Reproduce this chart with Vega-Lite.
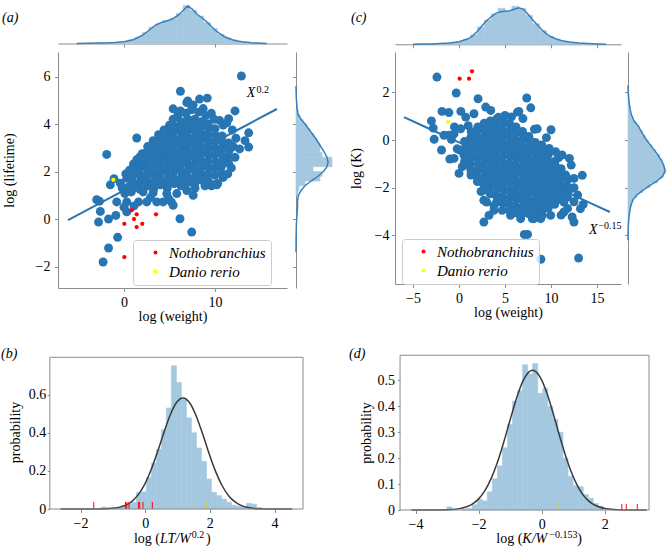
{
"$schema":"https://vega.github.io/schema/vega-lite/v6.json",
"padding":{"left":1,"top":3,"right":5,"bottom":5},
"config":{"font":"Liberation Serif","view":{"stroke":null},
"axis":{"grid":false,"domainColor":"#8c8c8c","tickColor":"#8c8c8c","labelColor":"#000000","titleColor":"#000000","labelFontSize":14,"titleFontSize":14,"titleFontWeight":"normal","tickSize":3.5,"labelPadding":4,"domainWidth":1,"tickWidth":1},
"rect":{"stroke":"#a5c8e1","strokeWidth":0.6},
"text":{"color":"#000000","fontSize":14}},
"resolve":{"scale":{"color":"independent"},"legend":{"color":"independent"}},
"datasets":{
"sa":[{"x":1.0,"y":1.3},{"x":0.92,"y":1.58},{"x":1.08,"y":1.86},{"x":0.95,"y":2.14},{"x":1.05,"y":2.32},
{"x":1.75,"y":1.25},{"x":1.68,"y":1.53},{"x":1.82,"y":1.81},{"x":1.7,"y":2.09},{"x":1.8,"y":2.37},{"x":1.72,"y":2.6},
{"x":2.5,"y":1.39},{"x":2.42,"y":1.67},{"x":2.58,"y":1.95},{"x":2.45,"y":2.23},{"x":2.55,"y":2.51},{"x":2.48,"y":2.8},
{"x":3.25,"y":1.25},{"x":3.18,"y":1.53},{"x":3.32,"y":1.81},{"x":3.2,"y":2.09},{"x":3.3,"y":2.37},{"x":3.22,"y":2.65},{"x":3.28,"y":2.93},{"x":3.2,"y":3.1},
{"x":4.0,"y":1.44},{"x":3.92,"y":1.72},{"x":4.08,"y":2.0},{"x":3.95,"y":2.28},{"x":4.05,"y":2.56},{"x":3.97,"y":2.84},{"x":4.03,"y":3.12},{"x":4.0,"y":3.4},
{"x":4.75,"y":1.3},{"x":4.68,"y":1.58},{"x":4.82,"y":1.86},{"x":4.7,"y":2.14},{"x":4.8,"y":2.42},{"x":4.72,"y":2.7},{"x":4.78,"y":2.98},{"x":4.7,"y":3.26},{"x":4.8,"y":3.54},{"x":4.75,"y":3.7},
{"x":5.5,"y":1.49},{"x":5.42,"y":1.77},{"x":5.58,"y":2.05},{"x":5.45,"y":2.33},{"x":5.55,"y":2.61},{"x":5.47,"y":2.89},{"x":5.53,"y":3.17},{"x":5.45,"y":3.45},{"x":5.55,"y":3.73},{"x":5.5,"y":3.9},
{"x":6.25,"y":1.4},{"x":6.18,"y":1.68},{"x":6.32,"y":1.96},{"x":6.2,"y":2.24},{"x":6.3,"y":2.52},{"x":6.22,"y":2.8},{"x":6.28,"y":3.08},{"x":6.2,"y":3.36},{"x":6.3,"y":3.64},{"x":6.22,"y":3.92},{"x":6.28,"y":4.1},
{"x":7.0,"y":1.54},{"x":6.92,"y":1.82},{"x":7.08,"y":2.1},{"x":6.95,"y":2.38},{"x":7.05,"y":2.66},{"x":6.97,"y":2.94},{"x":7.03,"y":3.22},{"x":6.95,"y":3.5},{"x":7.05,"y":3.78},{"x":6.98,"y":4.06},{"x":7.02,"y":4.2},
{"x":7.75,"y":1.45},{"x":7.68,"y":1.73},{"x":7.82,"y":2.01},{"x":7.7,"y":2.29},{"x":7.8,"y":2.57},{"x":7.72,"y":2.85},{"x":7.78,"y":3.13},{"x":7.7,"y":3.41},{"x":7.8,"y":3.69},{"x":7.72,"y":3.97},{"x":7.78,"y":4.2},
{"x":8.5,"y":1.64},{"x":8.42,"y":1.92},{"x":8.58,"y":2.2},{"x":8.45,"y":2.48},{"x":8.55,"y":2.76},{"x":8.47,"y":3.04},{"x":8.53,"y":3.32},{"x":8.45,"y":3.6},{"x":8.55,"y":3.88},{"x":8.5,"y":4.1},
{"x":9.25,"y":1.6},{"x":9.18,"y":1.88},{"x":9.32,"y":2.16},{"x":9.2,"y":2.44},{"x":9.3,"y":2.72},{"x":9.22,"y":3.0},{"x":9.28,"y":3.28},{"x":9.2,"y":3.56},{"x":9.3,"y":3.84},{"x":9.25,"y":4.0},
{"x":10.0,"y":1.84},{"x":9.92,"y":2.12},{"x":10.08,"y":2.4},{"x":9.95,"y":2.68},{"x":10.05,"y":2.96},{"x":9.97,"y":3.24},{"x":10.03,"y":3.52},{"x":10.0,"y":3.8},
{"x":10.75,"y":1.9},{"x":10.68,"y":2.18},{"x":10.82,"y":2.46},{"x":10.7,"y":2.74},{"x":10.8,"y":3.02},{"x":10.72,"y":3.3},{"x":10.78,"y":3.5},
{"x":11.5,"y":2.34},{"x":11.42,"y":2.62},{"x":11.58,"y":2.9},{"x":11.5,"y":3.2},
{"x":1.4,"y":2.5},{"x":2.0,"y":2.75},{"x":2.6,"y":3.05},{"x":3.2,"y":3.3},{"x":3.8,"y":3.55},{"x":4.4,"y":3.75},{"x":5.0,"y":3.95},{"x":5.4,"y":4.2},{"x":5.9,"y":4.35},{"x":6.2,"y":4.55},{"x":6.8,"y":4.45},{"x":6.9,"y":4.9},{"x":7.4,"y":4.6},{"x":7.6,"y":4.8},{"x":8.2,"y":4.5},{"x":8.7,"y":4.65},{"x":9.0,"y":4.35},{"x":9.6,"y":4.45},{"x":9.9,"y":4.2},{"x":10.5,"y":4.15},{"x":10.9,"y":3.95},{"x":11.3,"y":4.05},{"x":11.9,"y":3.75},{"x":12.3,"y":3.4},{"x":12.0,"y":3.05},{"x":12.7,"y":2.95},{"x":12.2,"y":2.6},{"x":11.8,"y":2.15},{"x":11.4,"y":1.9},{"x":10.9,"y":1.75},{"x":10.3,"y":1.5},{"x":9.6,"y":1.4},{"x":8.9,"y":1.4},{"x":0.3,"y":1.72},{"x":-0.4,"y":1.51},{"x":-0.2,"y":1.3},{"x":0.5,"y":1.35},{"x":0.2,"y":1.9},{"x":0.6,"y":2.05},
{"x":12.9,"y":6.02},{"x":6.2,"y":5.38},{"x":7.0,"y":4.97},{"x":8.3,"y":5.05},{"x":9.15,"y":5.09},{"x":5.4,"y":4.64},{"x":12.2,"y":4.55},{"x":11.5,"y":4.22},{"x":13.7,"y":3.63},{"x":13.7,"y":3.03},{"x":13.3,"y":3.3},{"x":1.4,"y":3.41},{"x":-1.9,"y":2.72},{"x":-1.1,"y":1.7},{"x":-1.5,"y":1.44},{"x":-3.0,"y":0.81},{"x":-2.7,"y":0.75},{"x":-2.6,"y":0.32},{"x":-2.8,"y":-0.13},{"x":-1.7,"y":0.0},{"x":-0.9,"y":0.15},{"x":6.15,"y":0.01},{"x":7.44,"y":-0.55},{"x":-0.7,"y":-0.77},{"x":-1.7,"y":-1.22},{"x":-2.3,"y":-1.81},{"x":-0.8,"y":0.72},{"x":0.3,"y":0.72},{"x":1.1,"y":0.55},{"x":1.6,"y":0.72},{"x":2.5,"y":0.72},{"x":3.6,"y":0.72},{"x":4.3,"y":0.72},{"x":5.2,"y":0.72},{"x":5.4,"y":0.58},{"x":0.3,"y":0.3},{"x":0.1,"y":1.07},{"x":0.8,"y":1.14},{"x":2.1,"y":1.14},{"x":3.2,"y":1.1},{"x":4.7,"y":1.07},{"x":5.8,"y":1.07},{"x":6.9,"y":1.2},{"x":7.8,"y":1.3},{"x":9.8,"y":1.44},{"x":10.2,"y":1.44},{"x":7.6,"y":1.0},{"x":4.9,"y":0.86},{"x":2.9,"y":0.9},{"x":0.0,"y":0.5}],
"pa":[{"x":0.84,"y":0.37,"sp":"Nothobranchius"},{"x":1.39,"y":0.2,"sp":"Nothobranchius"},{"x":3.52,"y":0.2,"sp":"Nothobranchius"},{"x":0.04,"y":-0.2,"sp":"Nothobranchius"},{"x":1.1,"y":0.0,"sp":"Nothobranchius"},{"x":2.01,"y":-0.2,"sp":"Nothobranchius"},{"x":1.39,"y":-0.34,"sp":"Nothobranchius"},{"x":0.04,"y":-1.6,"sp":"Nothobranchius"},{"x":-1.17,"y":1.65,"sp":"Danio rerio"}],
"ba":[{"x":-6.15,"fit":-0.05,"lo":-0.21,"hi":0.11},{"x":-3,"fit":0.593,"lo":0.493,"hi":0.693},{"x":0,"fit":1.205,"lo":1.145,"hi":1.265},{"x":3,"fit":1.817,"lo":1.777,"hi":1.857},{"x":6,"fit":2.429,"lo":2.394,"hi":2.464},{"x":9,"fit":3.041,"lo":3.001,"hi":3.081},{"x":12,"fit":3.653,"lo":3.583,"hi":3.723},{"x":15,"fit":4.265,"lo":4.155,"hi":4.375},{"x":16.8,"fit":4.632,"lo":4.492,"hi":4.772}],
"ta":[{"x":-5.2,"h":0},{"x":-4,"h":0.2},{"x":-3,"h":0.4},{"x":-2,"h":0.6},{"x":-1,"h":1.0},{"x":0,"h":1.8},{"x":1,"h":3.8},{"x":2,"h":8},{"x":3,"h":15},{"x":3.5,"h":18.5},{"x":4,"h":20.5},{"x":4.5,"h":22},{"x":5,"h":23.5},{"x":5.5,"h":25.5},{"x":6,"h":28.5},{"x":6.5,"h":33},{"x":7,"h":37.5},{"x":7.5,"h":34.5},{"x":8,"h":29.5},{"x":8.5,"h":26},{"x":9,"h":22.5},{"x":9.5,"h":18},{"x":10,"h":13.5},{"x":10.5,"h":10},{"x":11,"h":7},{"x":11.5,"h":5},{"x":12,"h":3.5},{"x":12.5,"h":2.5},{"x":13,"h":1.8},{"x":14,"h":0.8},{"x":15,"h":0.3},{"x":15.7,"h":0}],
"tab":[{"a":-4.75,"b":-4.0,"h":0.15},{"a":-4.0,"b":-3.25,"h":0.3},{"a":-3.25,"b":-2.5,"h":0.45},{"a":-2.5,"b":-1.75,"h":0.6},{"a":-1.75,"b":-1.0,"h":0.85},{"a":-1.0,"b":-0.25,"h":1.3},{"a":-0.25,"b":0.5,"h":2.0},{"a":0.5,"b":1.25,"h":3.6},{"a":1.25,"b":2.0,"h":6.3},{"a":2.0,"b":2.75,"h":11},{"a":2.75,"b":3.5,"h":16.5},{"a":3.5,"b":4.25,"h":19.5},{"a":4.25,"b":5.0,"h":23},{"a":5.0,"b":5.75,"h":24.5},{"a":5.75,"b":6.5,"h":30},{"a":6.5,"b":7.25,"h":38},{"a":7.25,"b":8.0,"h":33},{"a":8.0,"b":8.75,"h":27.5},{"a":8.75,"b":9.5,"h":21},{"a":9.5,"b":10.25,"h":15},{"a":10.25,"b":11.0,"h":9},{"a":11.0,"b":11.75,"h":5.8},{"a":11.75,"b":12.5,"h":3.3},{"a":12.5,"b":13.25,"h":1.9},{"a":13.25,"b":14.0,"h":1.2},{"a":14.0,"b":14.75,"h":0.6},{"a":14.75,"b":15.5,"h":0.25}],
"ka":[{"y":-1.4,"h":0},{"y":-0.8,"h":0.1},{"y":-0.2,"h":0.4},{"y":0.2,"h":1.0},{"y":0.5,"h":1.5},{"y":0.8,"h":1.6},{"y":1.0,"h":2.5},{"y":1.2,"h":5},{"y":1.4,"h":9},{"y":1.6,"h":15},{"y":1.8,"h":22},{"y":2.0,"h":27.5},{"y":2.2,"h":31},{"y":2.4,"h":32},{"y":2.6,"h":31},{"y":2.8,"h":28.5},{"y":3.0,"h":25.5},{"y":3.2,"h":22.5},{"y":3.4,"h":19.5},{"y":3.6,"h":16},{"y":3.8,"h":12.5},{"y":4.0,"h":9},{"y":4.2,"h":5},{"y":4.4,"h":2},{"y":4.7,"h":1},{"y":5.1,"h":0.3},{"y":5.6,"h":0}],
"rba":[{"y0":1.0,"y1":1.2,"h":2},{"y0":1.2,"y1":1.4,"h":3},{"y0":1.4,"y1":1.6,"h":9},{"y0":1.6,"y1":1.8,"h":24},{"y0":1.8,"y1":2.0,"h":26},{"y0":2.0,"y1":2.2,"h":17},{"y0":2.2,"y1":2.4,"h":36},{"y0":2.4,"y1":2.6,"h":36},{"y0":2.6,"y1":2.8,"h":26},{"y0":2.8,"y1":3.0,"h":24},{"y0":3.0,"y1":3.2,"h":24},{"y0":3.2,"y1":3.4,"h":21},{"y0":3.4,"y1":3.6,"h":18},{"y0":3.6,"y1":3.8,"h":14},{"y0":3.8,"y1":4.0,"h":11},{"y0":4.0,"y1":4.2,"h":7},{"y0":4.2,"y1":4.4,"h":4},{"y0":4.4,"y1":4.6,"h":2}],
"sc":[{"x":0.6,"y":-0.9},{"x":0.53,"y":-0.62},{"x":0.67,"y":-0.34},{"x":0.6,"y":-0.06},
{"x":1.3,"y":-1.3},{"x":1.23,"y":-1.02},{"x":1.37,"y":-0.74},{"x":1.25,"y":-0.46},{"x":1.35,"y":-0.18},{"x":1.27,"y":0.1},{"x":1.33,"y":0.35},
{"x":2.0,"y":-1.56},{"x":1.93,"y":-1.28},{"x":2.07,"y":-1.0},{"x":1.95,"y":-0.72},{"x":2.05,"y":-0.44},{"x":1.97,"y":-0.16},{"x":2.03,"y":0.12},{"x":1.95,"y":0.4},{"x":2.05,"y":0.55},
{"x":2.7,"y":-2.1},{"x":2.63,"y":-1.82},{"x":2.77,"y":-1.54},{"x":2.65,"y":-1.26},{"x":2.75,"y":-0.98},{"x":2.67,"y":-0.7},{"x":2.73,"y":-0.42},{"x":2.65,"y":-0.14},{"x":2.75,"y":0.14},{"x":2.67,"y":0.42},{"x":2.73,"y":0.7},
{"x":3.4,"y":-2.26},{"x":3.33,"y":-1.98},{"x":3.47,"y":-1.7},{"x":3.35,"y":-1.42},{"x":3.45,"y":-1.14},{"x":3.37,"y":-0.86},{"x":3.43,"y":-0.58},{"x":3.35,"y":-0.3},{"x":3.45,"y":-0.02},{"x":3.37,"y":0.26},{"x":3.43,"y":0.54},{"x":3.4,"y":0.8},
{"x":4.1,"y":-2.6},{"x":4.03,"y":-2.32},{"x":4.17,"y":-2.04},{"x":4.05,"y":-1.76},{"x":4.15,"y":-1.48},{"x":4.07,"y":-1.2},{"x":4.13,"y":-0.92},{"x":4.05,"y":-0.64},{"x":4.15,"y":-0.36},{"x":4.07,"y":-0.08},{"x":4.13,"y":0.2},{"x":4.05,"y":0.48},{"x":4.15,"y":0.76},{"x":4.1,"y":0.88},
{"x":4.8,"y":-2.66},{"x":4.73,"y":-2.38},{"x":4.87,"y":-2.1},{"x":4.75,"y":-1.82},{"x":4.85,"y":-1.54},{"x":4.77,"y":-1.26},{"x":4.83,"y":-0.98},{"x":4.75,"y":-0.7},{"x":4.85,"y":-0.42},{"x":4.77,"y":-0.14},{"x":4.83,"y":0.14},{"x":4.75,"y":0.42},{"x":4.85,"y":0.7},{"x":4.8,"y":0.82},
{"x":5.5,"y":-2.95},{"x":5.43,"y":-2.67},{"x":5.57,"y":-2.39},{"x":5.45,"y":-2.11},{"x":5.55,"y":-1.83},{"x":5.47,"y":-1.55},{"x":5.53,"y":-1.27},{"x":5.45,"y":-0.99},{"x":5.55,"y":-0.71},{"x":5.47,"y":-0.43},{"x":5.53,"y":-0.15},{"x":5.45,"y":0.13},{"x":5.55,"y":0.41},{"x":5.5,"y":0.68},
{"x":6.2,"y":-3.05},{"x":6.13,"y":-2.77},{"x":6.27,"y":-2.49},{"x":6.15,"y":-2.21},{"x":6.25,"y":-1.93},{"x":6.17,"y":-1.65},{"x":6.23,"y":-1.37},{"x":6.15,"y":-1.09},{"x":6.25,"y":-0.81},{"x":6.17,"y":-0.53},{"x":6.23,"y":-0.25},{"x":6.15,"y":0.03},{"x":6.25,"y":0.31},{"x":6.2,"y":0.55},
{"x":6.9,"y":-3.1},{"x":6.83,"y":-2.82},{"x":6.97,"y":-2.54},{"x":6.85,"y":-2.26},{"x":6.95,"y":-1.98},{"x":6.87,"y":-1.7},{"x":6.93,"y":-1.42},{"x":6.85,"y":-1.14},{"x":6.95,"y":-0.86},{"x":6.87,"y":-0.58},{"x":6.93,"y":-0.3},{"x":6.85,"y":-0.02},{"x":6.95,"y":0.26},{"x":6.9,"y":0.36},
{"x":7.6,"y":-3.1},{"x":7.53,"y":-2.82},{"x":7.67,"y":-2.54},{"x":7.55,"y":-2.26},{"x":7.65,"y":-1.98},{"x":7.57,"y":-1.7},{"x":7.63,"y":-1.42},{"x":7.55,"y":-1.14},{"x":7.65,"y":-0.86},{"x":7.57,"y":-0.58},{"x":7.63,"y":-0.3},{"x":7.6,"y":-0.02},{"x":7.6,"y":0.15},
{"x":8.3,"y":-3.05},{"x":8.23,"y":-2.77},{"x":8.37,"y":-2.49},{"x":8.25,"y":-2.21},{"x":8.35,"y":-1.93},{"x":8.27,"y":-1.65},{"x":8.33,"y":-1.37},{"x":8.25,"y":-1.09},{"x":8.35,"y":-0.81},{"x":8.27,"y":-0.53},{"x":8.33,"y":-0.25},{"x":8.3,"y":-0.1},
{"x":9.0,"y":-2.95},{"x":8.93,"y":-2.67},{"x":9.07,"y":-2.39},{"x":8.95,"y":-2.11},{"x":9.05,"y":-1.83},{"x":8.97,"y":-1.55},{"x":9.03,"y":-1.27},{"x":8.95,"y":-0.99},{"x":9.05,"y":-0.71},{"x":9.0,"y":-0.43},
{"x":9.7,"y":-2.85},{"x":9.63,"y":-2.57},{"x":9.77,"y":-2.29},{"x":9.65,"y":-2.01},{"x":9.75,"y":-1.73},{"x":9.67,"y":-1.45},{"x":9.73,"y":-1.17},{"x":9.65,"y":-0.89},{"x":9.7,"y":-0.62},
{"x":10.4,"y":-2.7},{"x":10.33,"y":-2.42},{"x":10.47,"y":-2.14},{"x":10.35,"y":-1.86},{"x":10.45,"y":-1.58},{"x":10.37,"y":-1.3},{"x":10.43,"y":-1.02},{"x":10.4,"y":-0.9},
{"x":11.1,"y":-2.5},{"x":11.03,"y":-2.22},{"x":11.17,"y":-1.94},{"x":11.05,"y":-1.66},{"x":11.15,"y":-1.38},{"x":11.1,"y":-1.2},
{"x":11.8,"y":-2.2},{"x":11.73,"y":-1.92},{"x":11.87,"y":-1.64},
{"x":-2.4,"y":2.64},{"x":-0.3,"y":1.97},{"x":2.07,"y":1.73},{"x":7.36,"y":1.76},{"x":7.8,"y":1.35},{"x":6.5,"y":1.2},{"x":-1.85,"y":1.2},{"x":-1.1,"y":1.15},{"x":0.2,"y":1.2},{"x":-3.0,"y":0.8},{"x":-2.8,"y":0.5},{"x":-2.7,"y":0.03},{"x":-1.9,"y":-0.42},{"x":-1.1,"y":0.2},{"x":-0.2,"y":-0.37},{"x":-1.0,"y":-0.8},{"x":0.0,"y":-1.4},{"x":0.9,"y":-1.05},{"x":2.7,"y":-2.53},{"x":2.7,"y":-3.44},{"x":7.1,"y":-3.96},{"x":7.45,"y":-3.96},{"x":8.9,"y":-5.0},{"x":13.0,"y":-4.95},{"x":13.4,"y":-1.48},{"x":12.5,"y":-2.0},{"x":13.5,"y":-2.7},{"x":8.5,"y":0.47},{"x":10.0,"y":0.43},{"x":-0.54,"y":0.26},{"x":-1.63,"y":0.2},{"x":-0.83,"y":0.03},{"x":0.18,"y":0.47},{"x":0.73,"y":0.96},{"x":1.63,"y":1.1},{"x":2.9,"y":1.38},{"x":3.45,"y":1.24},{"x":4.3,"y":0.95},{"x":5.0,"y":1.03},{"x":5.7,"y":0.97},{"x":6.35,"y":1.17},{"x":6.95,"y":0.9},{"x":8.2,"y":0.45},{"x":7.8,"y":-0.07},{"x":9.0,"y":-0.21},{"x":9.8,"y":-0.35},{"x":10.5,"y":-0.49},{"x":11.2,"y":-0.63},{"x":12.0,"y":-0.77},{"x":12.2,"y":-1.05},{"x":11.6,"y":-1.47},{"x":12.5,"y":-1.61},{"x":12.25,"y":-2.03},{"x":12.9,"y":-2.31},{"x":12.5,"y":-2.59},{"x":11.8,"y":-2.87},{"x":11.1,"y":-3.15},{"x":9.96,"y":-3.16},{"x":8.88,"y":-3.3},{"x":7.97,"y":-3.3},{"x":6.7,"y":-3.3},{"x":5.6,"y":-3.16},{"x":4.7,"y":-2.95},{"x":3.8,"y":-2.74},{"x":3.26,"y":-3.16},{"x":2.4,"y":-2.16},{"x":2.0,"y":-1.74},{"x":1.3,"y":-1.47},{"x":0.36,"y":-1.12},{"x":-0.54,"y":-0.77},{"x":0.73,"y":-0.77},{"x":0.1,"y":-0.42},{"x":11.4,"y":-3.02},{"x":12.3,"y":-3.23},{"x":12.5,"y":-3.44},{"x":13.2,"y":-2.88},{"x":8.15,"y":-3.3},{"x":9.06,"y":-3.16},{"x":5.25,"y":-2.6},{"x":3.8,"y":-2.95},{"x":11.4,"y":-2.6},{"x":11.8,"y":-2.39},{"x":1.0,"y":0.6},{"x":-0.5,"y":0.55},{"x":10.8,"y":-0.75},{"x":3.0,"y":-2.6},{"x":9.5,"y":0.1}],
"pc":[{"x":0.07,"y":2.57,"sp":"Nothobranchius"},{"x":1.09,"y":2.57,"sp":"Nothobranchius"},{"x":1.41,"y":2.88,"sp":"Nothobranchius"},{"x":-1.2,"y":0.75,"sp":"Danio rerio"}],
"bc":[{"x":-5.98,"fit":0.96,"lo":0.82,"hi":1.1},{"x":-3,"fit":0.43,"lo":0.34,"hi":0.52},{"x":0,"fit":-0.103,"lo":-0.153,"hi":-0.053},{"x":3,"fit":-0.636,"lo":-0.671,"hi":-0.601},{"x":6,"fit":-1.17,"lo":-1.2,"hi":-1.14},{"x":9,"fit":-1.703,"lo":-1.738,"hi":-1.668},{"x":12,"fit":-2.237,"lo":-2.297,"hi":-2.177},{"x":15,"fit":-2.77,"lo":-2.87,"hi":-2.67},{"x":16.4,"fit":-3.02,"lo":-3.14,"hi":-2.9}],
"tc":[{"x":-5,"h":0},{"x":-4,"h":0.2},{"x":-3,"h":0.4},{"x":-2,"h":0.7},{"x":-1,"h":1.2},{"x":0,"h":2.5},{"x":1,"h":5.5},{"x":1.5,"h":8.5},{"x":2,"h":13},{"x":2.5,"h":18.5},{"x":3,"h":23.5},{"x":3.5,"h":27.5},{"x":4,"h":31},{"x":4.5,"h":32.5},{"x":5,"h":33},{"x":5.5,"h":33.5},{"x":6,"h":35},{"x":6.5,"h":36.5},{"x":7,"h":35},{"x":7.5,"h":30},{"x":8,"h":24.5},{"x":8.5,"h":19.5},{"x":9,"h":14.5},{"x":9.5,"h":10.5},{"x":10,"h":7.5},{"x":10.5,"h":5.5},{"x":11,"h":4},{"x":11.5,"h":3},{"x":12,"h":2.2},{"x":13,"h":1.2},{"x":14,"h":0.7},{"x":15,"h":0.3},{"x":16,"h":0}],
"tcb":[{"a":-4.75,"b":-4.0,"h":0.12},{"a":-4.0,"b":-3.25,"h":0.28},{"a":-3.25,"b":-2.5,"h":0.43},{"a":-2.5,"b":-1.75,"h":0.67},{"a":-1.75,"b":-1.0,"h":1.0},{"a":-1.0,"b":-0.25,"h":1.7},{"a":-0.25,"b":0.5,"h":2.8},{"a":0.5,"b":1.25,"h":5.2},{"a":1.25,"b":2.0,"h":9.4},{"a":2.0,"b":2.75,"h":17.4},{"a":2.75,"b":3.5,"h":24.3},{"a":3.5,"b":4.25,"h":30.3},{"a":4.25,"b":5.0,"h":36},{"a":5.0,"b":5.75,"h":33},{"a":5.75,"b":6.5,"h":38},{"a":6.5,"b":7.25,"h":36},{"a":7.25,"b":8.0,"h":28.9},{"a":8.0,"b":8.75,"h":20.5},{"a":8.75,"b":9.5,"h":13.7},{"a":9.5,"b":10.25,"h":8.1},{"a":10.25,"b":11.0,"h":5.2},{"a":11.0,"b":11.75,"h":3.2},{"a":11.75,"b":12.5,"h":2.1},{"a":12.5,"b":13.25,"h":1.3},{"a":13.25,"b":14.0,"h":0.9},{"a":14.0,"b":14.75,"h":0.5},{"a":14.75,"b":15.5,"h":0.27}],
"kc":[{"y":2.3,"h":0},{"y":2.0,"h":0.3},{"y":1.6,"h":1},{"y":1.1,"h":3},{"y":0.8,"h":6},{"y":0.6,"h":10},{"y":0.3,"h":14},{"y":0.0,"h":18.5},{"y":-0.3,"h":24},{"y":-0.6,"h":29.5},{"y":-0.9,"h":34},{"y":-1.1,"h":36},{"y":-1.3,"h":37},{"y":-1.5,"h":35},{"y":-1.7,"h":29.5},{"y":-1.9,"h":22},{"y":-2.1,"h":15},{"y":-2.3,"h":9},{"y":-2.5,"h":5},{"y":-2.8,"h":2.5},{"y":-3.2,"h":1},{"y":-3.6,"h":0.3},{"y":-4.2,"h":0}],
"rcb":[{"y0":2.0,"y1":2.2,"h":0.1},{"y0":1.8,"y1":2.0,"h":0.5},{"y0":1.6,"y1":1.8,"h":0.8},{"y0":1.4,"y1":1.6,"h":1.4},{"y0":1.2,"y1":1.4,"h":2.2},{"y0":1.0,"y1":1.2,"h":3},{"y0":0.8,"y1":1.0,"h":5},{"y0":0.6,"y1":0.8,"h":8},{"y0":0.4,"y1":0.6,"h":11.3},{"y0":0.2,"y1":0.4,"h":14.5},{"y0":0.0,"y1":0.2,"h":17},{"y0":-0.2,"y1":0.0,"h":20.3},{"y0":-0.4,"y1":-0.2,"h":24},{"y0":-0.6,"y1":-0.4,"h":27.7},{"y0":-0.8,"y1":-0.6,"h":31.5},{"y0":-1.0,"y1":-0.8,"h":34},{"y0":-1.2,"y1":-1.0,"h":36},{"y0":-1.4,"y1":-1.2,"h":37.5},{"y0":-1.6,"y1":-1.4,"h":35},{"y0":-1.8,"y1":-1.6,"h":29.5},{"y0":-2.0,"y1":-1.8,"h":22},{"y0":-2.2,"y1":-2.0,"h":15},{"y0":-2.4,"y1":-2.2,"h":9},{"y0":-2.6,"y1":-2.4,"h":5},{"y0":-2.8,"y1":-2.6,"h":3.3},{"y0":-3.0,"y1":-2.8,"h":2},{"y0":-3.2,"y1":-3.0,"h":1.4},{"y0":-3.4,"y1":-3.2,"h":0.8},{"y0":-3.6,"y1":-3.4,"h":0.5},{"y0":-4.0,"y1":-3.6,"h":0.2}],
"hb":[{"a":-1.36,"b":-1.205,"p":0.01},{"a":-1.205,"b":-1.05,"p":0.005},{"a":-1.05,"b":-0.895,"p":0.004},{"a":-0.895,"b":-0.74,"p":0.008},{"a":-0.74,"b":-0.585,"p":0.018},{"a":-0.585,"b":-0.43,"p":0.025},{"a":-0.43,"b":-0.275,"p":0.035},{"a":-0.275,"b":-0.12,"p":0.087},{"a":-0.12,"b":0.034,"p":0.09},{"a":0.034,"b":0.19,"p":0.165},{"a":0.19,"b":0.345,"p":0.24},{"a":0.345,"b":0.5,"p":0.313},{"a":0.5,"b":0.655,"p":0.417},{"a":0.655,"b":0.81,"p":0.53},{"a":0.81,"b":0.965,"p":0.751},{"a":0.965,"b":1.12,"p":0.664},{"a":1.12,"b":1.275,"p":0.574},{"a":1.275,"b":1.43,"p":0.478},{"a":1.43,"b":1.585,"p":0.4},{"a":1.585,"b":1.74,"p":0.32},{"a":1.74,"b":1.895,"p":0.25},{"a":1.895,"b":2.05,"p":0.157},{"a":2.05,"b":2.205,"p":0.087},{"a":2.205,"b":2.36,"p":0.07},{"a":2.36,"b":2.515,"p":0.052},{"a":2.515,"b":2.67,"p":0.035},{"a":2.67,"b":2.825,"p":0.02},{"a":2.825,"b":2.98,"p":0.014},{"a":2.98,"b":3.135,"p":0.014},{"a":3.135,"b":3.29,"p":0.03},{"a":3.29,"b":3.445,"p":0.025},{"a":3.445,"b":3.6,"p":0.008}],
"nb":[{"x":-2.62,"p":0},{"x":-2.02,"p":0.00001},{"x":-1.62,"p":0.00014},{"x":-1.22,"p":0.0013},{"x":-1.02,"p":0.0035},{"x":-0.82,"p":0.0085},{"x":-0.62,"p":0.019},{"x":-0.42,"p":0.039},{"x":-0.22,"p":0.074},{"x":-0.02,"p":0.128},{"x":0.18,"p":0.205},{"x":0.38,"p":0.299},{"x":0.58,"p":0.402},{"x":0.78,"p":0.496},{"x":0.98,"p":0.561},{"x":1.17,"p":0.583},{"x":1.38,"p":0.556},{"x":1.58,"p":0.487},{"x":1.78,"p":0.392},{"x":1.98,"p":0.289},{"x":2.18,"p":0.196},{"x":2.38,"p":0.122},{"x":2.58,"p":0.07},{"x":2.78,"p":0.037},{"x":2.98,"p":0.0176},{"x":3.18,"p":0.0078},{"x":3.38,"p":0.0031},{"x":3.58,"p":0.0012},{"x":3.78,"p":0.0004},{"x":3.98,"p":0.0001},{"x":4.55,"p":0}],
"rb":[{"x":-1.59,"sp":"Nothobranchius"},{"x":-0.61,"sp":"Nothobranchius"},{"x":-0.57,"sp":"Nothobranchius"},{"x":-0.5,"sp":"Nothobranchius"},{"x":-0.21,"sp":"Nothobranchius"},{"x":-0.17,"sp":"Nothobranchius"},{"x":-0.07,"sp":"Nothobranchius"},{"x":0.22,"sp":"Nothobranchius"},{"x":1.91,"sp":"Danio rerio"}],
"hd":[{"a":-3.005,"b":-2.845,"p":0.012},{"a":-2.845,"b":-2.685,"p":0.004},{"a":-2.525,"b":-2.365,"p":0.003},{"a":-2.365,"b":-2.205,"p":0.006},{"a":-2.205,"b":-2.045,"p":0.02},{"a":-2.045,"b":-1.885,"p":0.042},{"a":-1.885,"b":-1.725,"p":0.035},{"a":-1.725,"b":-1.565,"p":0.07},{"a":-1.565,"b":-1.405,"p":0.12},{"a":-1.405,"b":-1.245,"p":0.17},{"a":-1.245,"b":-1.085,"p":0.24},{"a":-1.085,"b":-0.925,"p":0.33},{"a":-0.925,"b":-0.765,"p":0.42},{"a":-0.765,"b":-0.605,"p":0.46},{"a":-0.605,"b":-0.445,"p":0.56},{"a":-0.445,"b":-0.285,"p":0.525},{"a":-0.285,"b":-0.125,"p":0.565},{"a":-0.125,"b":0.035,"p":0.45},{"a":0.035,"b":0.195,"p":0.47},{"a":0.195,"b":0.355,"p":0.4},{"a":0.355,"b":0.515,"p":0.35},{"a":0.515,"b":0.675,"p":0.3},{"a":0.675,"b":0.835,"p":0.2},{"a":0.835,"b":0.995,"p":0.13},{"a":0.995,"b":1.155,"p":0.095},{"a":1.155,"b":1.315,"p":0.09},{"a":1.315,"b":1.475,"p":0.06},{"a":1.475,"b":1.635,"p":0.045},{"a":1.635,"b":1.795,"p":0.025},{"a":1.795,"b":1.955,"p":0.015}],
"nd":[{"x":-4.13,"p":0},{"x":-3.4,"p":0.0001},{"x":-3.0,"p":0.001},{"x":-2.6,"p":0.0053},{"x":-2.4,"p":0.0114},{"x":-2.2,"p":0.0229},{"x":-2.0,"p":0.0429},{"x":-1.8,"p":0.0749},{"x":-1.6,"p":0.122},{"x":-1.4,"p":0.185},{"x":-1.2,"p":0.263},{"x":-1.0,"p":0.348},{"x":-0.8,"p":0.43},{"x":-0.6,"p":0.496},{"x":-0.4,"p":0.533},{"x":-0.29,"p":0.539},{"x":-0.2,"p":0.535},{"x":0.0,"p":0.501},{"x":0.2,"p":0.438},{"x":0.4,"p":0.357},{"x":0.6,"p":0.272},{"x":0.8,"p":0.193},{"x":1.0,"p":0.128},{"x":1.2,"p":0.0789},{"x":1.4,"p":0.0454},{"x":1.6,"p":0.0245},{"x":1.8,"p":0.0123},{"x":2.0,"p":0.0058},{"x":2.4,"p":0.001},{"x":2.8,"p":0.0001},{"x":3.33,"p":0}],
"rd":[{"x":0.55,"sp":"Danio rerio"},{"x":2.54,"sp":"Nothobranchius"},{"x":2.68,"sp":"Nothobranchius"},{"x":3.03,"sp":"Nothobranchius"}]
},
"columns":2,
"spacing":{"row":67,"column":92},
"bounds":"flush",
"align":"each",
"concat":[
{"width":229,"height":236,
"resolve":{"scale":{"x":"independent","y":"independent"}},
"layer":[
{"data":{"name":"ba"},"mark":{"type":"area","color":"#1f77b4","opacity":0.25},
"encoding":{"x":{"field":"x","type":"quantitative","scale":{"domain":[-7.253,17.912],"nice":false,"zero":false},"axis":null},"y":{"field":"lo","type":"quantitative","scale":{"domain":[-2.905,7.032],"nice":false,"zero":false},"axis":null},"y2":{"field":"hi"},"order":{"field":"x","type":"quantitative"}}},
{"data":{"name":"ba"},"mark":{"type":"line","color":"#2a75b3","strokeWidth":2},
"encoding":{"x":{"field":"x","type":"quantitative","scale":{"domain":[-7.253,17.912],"nice":false,"zero":false},"axis":null},"y":{"field":"fit","type":"quantitative","scale":{"domain":[-2.905,7.032],"nice":false,"zero":false},"axis":null},"order":{"field":"x","type":"quantitative"}}},
{"data":{"name":"sa"},"mark":{"type":"circle","size":80,"color":"#2776b3","opacity":1},
"encoding":{"x":{"field":"x","type":"quantitative","scale":{"domain":[-7.253,17.912],"nice":false,"zero":false},"axis":{"orient":"bottom","values":[0,10],"format":"d","title":"log (weight)","labelPadding":3.5,"titlePadding":0}},
"y":{"field":"y","type":"quantitative","scale":{"domain":[-2.905,7.032],"nice":false,"zero":false},"axis":{"orient":"left","values":[-2,0,2,4,6],"format":"d","title":"log (lifetime)","labelPadding":4.5,"titlePadding":19}}}},
{"data":{"name":"pa"},"mark":{"type":"circle","size":18,"opacity":1},
"encoding":{"x":{"field":"x","type":"quantitative","scale":{"domain":[-7.253,17.912],"nice":false,"zero":false},"axis":null},"y":{"field":"y","type":"quantitative","scale":{"domain":[-2.905,7.032],"nice":false,"zero":false},"axis":null},
"color":{"field":"sp","type":"nominal","scale":{"domain":["Nothobranchius","Danio rerio"],"range":["#ff0000","#ffff00"]},
"legend":{"title":null,"orient":"none","legendX":75,"legendY":188,"labelFontSize":15,"labelFontStyle":"italic","labelColor":"#000000","symbolSize":16,"symbolType":"circle","symbolStrokeWidth":0,"padding":5,"symbolOffset":10,"labelOffset":6,"rowPadding":3,"fillColor":"rgba(255,255,255,0.8)","strokeColor":"#cccccc","cornerRadius":3,"labelExpr":"datum.label + '    '"}}}},
{"data":{"values":[{}]},"mark":{"type":"text","text":"X","fontStyle":"italic","fontSize":14,"align":"left","baseline":"alphabetic"},
"encoding":{"x":{"datum":13.48,"type":"quantitative","scale":{"domain":[-7.253,17.912],"nice":false,"zero":false},"axis":null},"y":{"datum":5.14,"type":"quantitative","scale":{"domain":[-2.905,7.032],"nice":false,"zero":false},"axis":null}}},
{"data":{"values":[{}]},"mark":{"type":"text","text":"0.2","fontSize":10,"align":"left","baseline":"alphabetic"},
"encoding":{"x":{"datum":14.55,"type":"quantitative","scale":{"domain":[-7.253,17.912],"nice":false,"zero":false},"axis":null},"y":{"datum":5.32,"type":"quantitative","scale":{"domain":[-2.905,7.032],"nice":false,"zero":false},"axis":null}}},
{"data":{"values":[{}]},"mark":{"type":"text","text":"(a)","fontStyle":"italic","fontSize":14,"align":"left","baseline":"middle"},
"encoding":{"x":{"datum":-13.41,"type":"quantitative","scale":{"domain":[-7.253,17.912],"nice":false,"zero":false},"axis":null},"y":{"datum":8.46,"type":"quantitative","scale":{"domain":[-2.905,7.032],"nice":false,"zero":false},"axis":null}}},
{"data":{"name":"tab"},"mark":{"type":"rect","color":"#a5c8e1"},
"encoding":{"x":{"field":"a","type":"quantitative","scale":{"domain":[-7.253,17.912],"nice":false,"zero":false},"axis":{"orient":"bottom","offset":-244.5,"values":[0,10],"labels":false,"title":null}},"x2":{"field":"b"},"y":{"field":"h","type":"quantitative","scale":{"domain":[-244.5,-8.5],"nice":false,"zero":false},"axis":null},"y2":{"datum":0}}},
{"data":{"name":"ta"},"mark":{"type":"line","color":"#3b80ba","strokeWidth":1.5},
"encoding":{"x":{"field":"x","type":"quantitative","scale":{"domain":[-7.253,17.912],"nice":false,"zero":false},"axis":null},"y":{"field":"h","type":"quantitative","scale":{"domain":[-244.5,-8.5],"nice":false,"zero":false},"axis":null},"order":{"field":"x","type":"quantitative"}}},
{"data":{"name":"rba"},"mark":{"type":"rect","color":"#a5c8e1"},
"encoding":{"y":{"field":"y0","type":"quantitative","scale":{"domain":[-2.905,7.032],"nice":false,"zero":false},"axis":{"orient":"left","offset":-238,"values":[-2,0,2,4,6],"labels":false,"title":null}},"y2":{"field":"y1"},"x":{"field":"h","type":"quantitative","scale":{"domain":[-238,-9],"nice":false,"zero":false},"axis":null},"x2":{"datum":0}}},
{"data":{"name":"ka"},"mark":{"type":"line","color":"#3b80ba","strokeWidth":1.5},
"encoding":{"x":{"field":"h","type":"quantitative","scale":{"domain":[-238,-9],"nice":false,"zero":false},"axis":null},"y":{"field":"y","type":"quantitative","scale":{"domain":[-2.905,7.032],"nice":false,"zero":false},"axis":null},"order":{"field":"y","type":"quantitative"}}}
]},
{"width":226,"height":232,
"resolve":{"scale":{"x":"independent","y":"independent"}},
"layer":[
{"data":{"name":"bc"},"mark":{"type":"area","color":"#1f77b4","opacity":0.25},
"encoding":{"x":{"field":"x","type":"quantitative","scale":{"domain":[-6.957,17.609],"nice":false,"zero":false},"axis":null},"y":{"field":"lo","type":"quantitative","scale":{"domain":[-6.038,3.69],"nice":false,"zero":false},"axis":null},"y2":{"field":"hi"},"order":{"field":"x","type":"quantitative"}}},
{"data":{"name":"bc"},"mark":{"type":"line","color":"#2a75b3","strokeWidth":2},
"encoding":{"x":{"field":"x","type":"quantitative","scale":{"domain":[-6.957,17.609],"nice":false,"zero":false},"axis":null},"y":{"field":"fit","type":"quantitative","scale":{"domain":[-6.038,3.69],"nice":false,"zero":false},"axis":null},"order":{"field":"x","type":"quantitative"}}},
{"data":{"name":"sc"},"mark":{"type":"circle","size":80,"color":"#2776b3","opacity":1},
"encoding":{"x":{"field":"x","type":"quantitative","scale":{"domain":[-6.957,17.609],"nice":false,"zero":false},"axis":{"orient":"bottom","values":[-5,0,5,10,15],"format":"d","title":"log (weight)","labelPadding":3.5,"titlePadding":0}},
"y":{"field":"y","type":"quantitative","scale":{"domain":[-6.038,3.69],"nice":false,"zero":false},"axis":{"orient":"left","values":[-4,-2,0,2],"format":"d","title":"log (K)","labelPadding":2.5,"titlePadding":10.5}}}},
{"data":{"name":"pc"},"mark":{"type":"circle","size":18,"opacity":1},
"encoding":{"x":{"field":"x","type":"quantitative","scale":{"domain":[-6.957,17.609],"nice":false,"zero":false},"axis":null},"y":{"field":"y","type":"quantitative","scale":{"domain":[-6.038,3.69],"nice":false,"zero":false},"axis":null},
"color":{"field":"sp","type":"nominal","scale":{"domain":["Nothobranchius","Danio rerio"],"range":["#ff0000","#ffff00"]},
"legend":{"title":null,"orient":"none","legendX":7,"legendY":187,"labelFontSize":15,"labelFontStyle":"italic","labelColor":"#000000","symbolSize":16,"symbolType":"circle","symbolStrokeWidth":0,"padding":5,"symbolOffset":9,"labelOffset":6,"rowPadding":3,"fillColor":"rgba(255,255,255,0.8)","strokeColor":"#cccccc","cornerRadius":3,"labelExpr":"datum.label + '  '"}}}},
{"data":{"values":[{}]},"mark":{"type":"text","text":"X","fontStyle":"italic","fontSize":14,"align":"left","baseline":"alphabetic"},
"encoding":{"x":{"datum":14.13,"type":"quantitative","scale":{"domain":[-6.957,17.609],"nice":false,"zero":false},"axis":null},"y":{"datum":-3.93,"type":"quantitative","scale":{"domain":[-6.038,3.69],"nice":false,"zero":false},"axis":null}}},
{"data":{"values":[{}]},"mark":{"type":"text","text":"−0.15","fontSize":10,"align":"left","baseline":"alphabetic"},
"encoding":{"x":{"datum":15.15,"type":"quantitative","scale":{"domain":[-6.957,17.609],"nice":false,"zero":false},"axis":null},"y":{"datum":-3.72,"type":"quantitative","scale":{"domain":[-6.038,3.69],"nice":false,"zero":false},"axis":null}}},
{"data":{"values":[{}]},"mark":{"type":"text","text":"(c)","fontStyle":"italic","fontSize":14,"align":"left","baseline":"middle"},
"encoding":{"x":{"datum":-11.74,"type":"quantitative","scale":{"domain":[-6.957,17.609],"nice":false,"zero":false},"axis":null},"y":{"datum":5.12,"type":"quantitative","scale":{"domain":[-6.038,3.69],"nice":false,"zero":false},"axis":null}}},
{"data":{"name":"tcb"},"mark":{"type":"rect","color":"#a5c8e1"},
"encoding":{"x":{"field":"a","type":"quantitative","scale":{"domain":[-6.957,17.609],"nice":false,"zero":false},"axis":{"orient":"bottom","offset":-239.7,"values":[-5,0,5,10,15],"labels":false,"title":null}},"x2":{"field":"b"},"y":{"field":"h","type":"quantitative","scale":{"domain":[-239.7,-7.7],"nice":false,"zero":false},"axis":null},"y2":{"datum":0}}},
{"data":{"name":"tc"},"mark":{"type":"line","color":"#3b80ba","strokeWidth":1.5},
"encoding":{"x":{"field":"x","type":"quantitative","scale":{"domain":[-6.957,17.609],"nice":false,"zero":false},"axis":null},"y":{"field":"h","type":"quantitative","scale":{"domain":[-239.7,-7.7],"nice":false,"zero":false},"axis":null},"order":{"field":"x","type":"quantitative"}}},
{"data":{"name":"rcb"},"mark":{"type":"rect","color":"#a5c8e1"},
"encoding":{"y":{"field":"y0","type":"quantitative","scale":{"domain":[-6.038,3.69],"nice":false,"zero":false},"axis":{"orient":"left","offset":-233,"values":[-4,-2,0,2],"labels":false,"title":null}},"y2":{"field":"y1"},"x":{"field":"h","type":"quantitative","scale":{"domain":[-233,-7],"nice":false,"zero":false},"axis":null},"x2":{"datum":0}}},
{"data":{"name":"kc"},"mark":{"type":"line","color":"#3b80ba","strokeWidth":1.5},
"encoding":{"x":{"field":"h","type":"quantitative","scale":{"domain":[-233,-7],"nice":false,"zero":false},"axis":null},"y":{"field":"y","type":"quantitative","scale":{"domain":[-6.038,3.69],"nice":false,"zero":false},"axis":null},"order":{"field":"y","type":"quantitative"}}}
]},
{"width":245,"height":154,
"resolve":{"scale":{"x":"independent","y":"independent"}},
"layer":[
{"data":{"name":"hb"},"mark":{"type":"rect","color":"#a5c8e1"},
"encoding":{"x":{"field":"a","type":"quantitative","scale":{"domain":[-2.697,4.881],"nice":false,"zero":false},"axis":{"orient":"bottom","values":[-2,0,2,4],"format":"d","title":null,"domain":false,"labelPadding":4}},"x2":{"field":"b"},
"y":{"field":"p","type":"quantitative","scale":{"domain":[0,0.808],"nice":false,"zero":false},"axis":{"orient":"left","values":[0,0.2,0.4,0.6],"format":".1f","labelExpr":"datum.value == 0 ? '0' : datum.label","title":"probability","offset":8.3,"domain":false,"tickSize":2.5,"labelPadding":1.5,"titlePadding":6}},"y2":{"datum":0}}},
{"data":{"name":"nb"},"mark":{"type":"line","color":"#3a3a3a","strokeWidth":1.5,"interpolate":"monotone"},
"encoding":{"x":{"field":"x","type":"quantitative","scale":{"domain":[-2.697,4.881],"nice":false,"zero":false},"axis":null},"y":{"field":"p","type":"quantitative","scale":{"domain":[0,0.808],"nice":false,"zero":false},"axis":null},"order":{"field":"x","type":"quantitative"}}},
{"data":{"name":"rb"},"mark":{"type":"rule","strokeWidth":1},
"encoding":{"x":{"field":"x","type":"quantitative","scale":{"domain":[-2.697,4.881],"nice":false,"zero":false},"axis":null},"y":{"datum":0,"type":"quantitative","scale":{"domain":[0,0.808],"nice":false,"zero":false},"axis":null},"y2":{"datum":0.037},
"color":{"field":"sp","type":"nominal","scale":{"domain":["Nothobranchius","Danio rerio"],"range":["#ff0000","#d6d600"]},"legend":null}}},
{"data":{"values":[{}]},"mark":{"type":"rect","filled":false,"color":"#8c8c8c","stroke":"#8c8c8c","strokeWidth":1},
"encoding":{"x":{"datum":-2.95,"type":"quantitative","scale":{"domain":[-2.697,4.881],"nice":false,"zero":false},"axis":null},"x2":{"datum":4.881},"y":{"datum":0,"type":"quantitative","scale":{"domain":[0,0.808],"nice":false,"zero":false},"axis":null},"y2":{"datum":0.796}}},
{"data":{"values":[{}]},"mark":{"type":"text","text":"log (","fontSize":14,"align":"right","baseline":"alphabetic"},
"encoding":{"x":{"datum":0.458,"type":"quantitative","scale":{"domain":[-2.697,4.881],"nice":false,"zero":false},"axis":null},"y":{"datum":-0.181,"type":"quantitative","scale":{"domain":[0,0.808],"nice":false,"zero":false},"axis":null}}},
{"data":{"values":[{}]},"mark":{"type":"text","text":"LT/W","fontStyle":"italic","fontSize":14,"align":"left","baseline":"alphabetic"},
"encoding":{"x":{"datum":0.458,"type":"quantitative","scale":{"domain":[-2.697,4.881],"nice":false,"zero":false},"axis":null},"y":{"datum":-0.181,"type":"quantitative","scale":{"domain":[0,0.808],"nice":false,"zero":false},"axis":null}}},
{"data":{"values":[{}]},"mark":{"type":"text","text":"0.2","fontSize":10,"align":"left","baseline":"alphabetic"},
"encoding":{"x":{"datum":1.44,"type":"quantitative","scale":{"domain":[-2.697,4.881],"nice":false,"zero":false},"axis":null},"y":{"datum":-0.152,"type":"quantitative","scale":{"domain":[0,0.808],"nice":false,"zero":false},"axis":null}}},
{"data":{"values":[{}]},"mark":{"type":"text","text":")","fontSize":14,"align":"left","baseline":"alphabetic"},
"encoding":{"x":{"datum":1.88,"type":"quantitative","scale":{"domain":[-2.697,4.881],"nice":false,"zero":false},"axis":null},"y":{"datum":-0.181,"type":"quantitative","scale":{"domain":[0,0.808],"nice":false,"zero":false},"axis":null}}},
{"data":{"values":[{}]},"mark":{"type":"text","text":"(b)","fontStyle":"italic","fontSize":14,"align":"left","baseline":"middle"},
"encoding":{"x":{"datum":-4.46,"type":"quantitative","scale":{"domain":[-2.697,4.881],"nice":false,"zero":false},"axis":null},"y":{"datum":0.813,"type":"quantitative","scale":{"domain":[0,0.808],"nice":false,"zero":false},"axis":null}}}
]},
{"width":254,"height":155,
"resolve":{"scale":{"x":"independent","y":"independent"}},
"layer":[
{"data":{"name":"hd"},"mark":{"type":"rect","color":"#a5c8e1"},
"encoding":{"x":{"field":"a","type":"quantitative","scale":{"domain":[-4.65,3.401],"nice":false,"zero":false},"axis":{"orient":"bottom","values":[-4,-2,0,2],"format":"d","title":null,"domain":false,"labelPadding":4}},"x2":{"field":"b"},
"y":{"field":"p","type":"quantitative","scale":{"domain":[0,0.598],"nice":false,"zero":false},"axis":{"orient":"left","values":[0,0.1,0.2,0.3,0.4,0.5],"format":".1f","labelExpr":"datum.value == 0 ? '0' : datum.label","title":"probability","offset":-5,"domain":false,"tickSize":2.5,"labelPadding":3,"titlePadding":4}},"y2":{"datum":0}}},
{"data":{"name":"nd"},"mark":{"type":"line","color":"#3a3a3a","strokeWidth":1.5,"interpolate":"monotone"},
"encoding":{"x":{"field":"x","type":"quantitative","scale":{"domain":[-4.65,3.401],"nice":false,"zero":false},"axis":null},"y":{"field":"p","type":"quantitative","scale":{"domain":[0,0.598],"nice":false,"zero":false},"axis":null},"order":{"field":"x","type":"quantitative"}}},
{"data":{"name":"rd"},"mark":{"type":"rule","strokeWidth":1},
"encoding":{"x":{"field":"x","type":"quantitative","scale":{"domain":[-4.65,3.401],"nice":false,"zero":false},"axis":null},"y":{"datum":0,"type":"quantitative","scale":{"domain":[0,0.598],"nice":false,"zero":false},"axis":null},"y2":{"datum":0.023},
"color":{"field":"sp","type":"nominal","scale":{"domain":["Nothobranchius","Danio rerio"],"range":["#ff0000","#d6d600"]},"legend":null}}},
{"data":{"values":[{}]},"mark":{"type":"rect","filled":false,"color":"#8c8c8c","stroke":"#8c8c8c","strokeWidth":1},
"encoding":{"x":{"datum":-4.49,"type":"quantitative","scale":{"domain":[-4.65,3.401],"nice":false,"zero":false},"axis":null},"x2":{"datum":3.401},"y":{"datum":0,"type":"quantitative","scale":{"domain":[0,0.598],"nice":false,"zero":false},"axis":null},"y2":{"datum":0.597}}},
{"data":{"values":[{}]},"mark":{"type":"text","text":"log (","fontSize":14,"align":"right","baseline":"alphabetic"},
"encoding":{"x":{"datum":-0.615,"type":"quantitative","scale":{"domain":[-4.65,3.401],"nice":false,"zero":false},"axis":null},"y":{"datum":-0.129,"type":"quantitative","scale":{"domain":[0,0.598],"nice":false,"zero":false},"axis":null}}},
{"data":{"values":[{}]},"mark":{"type":"text","text":"K/W","fontStyle":"italic","fontSize":14,"align":"left","baseline":"alphabetic"},
"encoding":{"x":{"datum":-0.615,"type":"quantitative","scale":{"domain":[-4.65,3.401],"nice":false,"zero":false},"axis":null},"y":{"datum":-0.129,"type":"quantitative","scale":{"domain":[0,0.598],"nice":false,"zero":false},"axis":null}}},
{"data":{"values":[{}]},"mark":{"type":"text","text":"−0.153","fontSize":10,"align":"left","baseline":"alphabetic"},
"encoding":{"x":{"datum":0.24,"type":"quantitative","scale":{"domain":[-4.65,3.401],"nice":false,"zero":false},"axis":null},"y":{"datum":-0.108,"type":"quantitative","scale":{"domain":[0,0.598],"nice":false,"zero":false},"axis":null}}},
{"data":{"values":[{}]},"mark":{"type":"text","text":")","fontSize":14,"align":"left","baseline":"alphabetic"},
"encoding":{"x":{"datum":1.13,"type":"quantitative","scale":{"domain":[-4.65,3.401],"nice":false,"zero":false},"axis":null},"y":{"datum":-0.129,"type":"quantitative","scale":{"domain":[0,0.598],"nice":false,"zero":false},"axis":null}}},
{"data":{"values":[{}]},"mark":{"type":"text","text":"(d)","fontStyle":"italic","fontSize":14,"align":"left","baseline":"middle"},
"encoding":{"x":{"datum":-6.108,"type":"quantitative","scale":{"domain":[-4.65,3.401],"nice":false,"zero":false},"axis":null},"y":{"datum":0.602,"type":"quantitative","scale":{"domain":[0,0.598],"nice":false,"zero":false},"axis":null}}}
]}
]
}
